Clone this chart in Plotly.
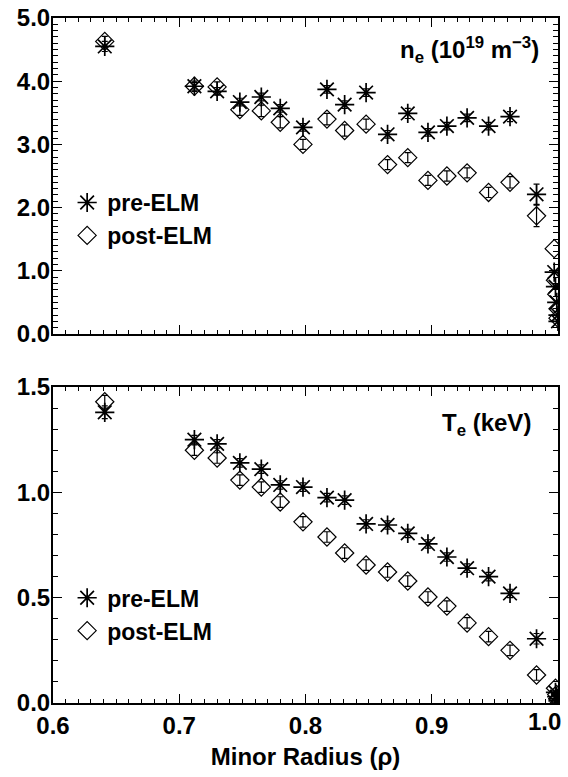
import plotly.graph_objects as go

# ---- data ----
rho = [0.641, 0.712, 0.730, 0.748, 0.765, 0.780, 0.798, 0.817, 0.831, 0.848,
       0.865, 0.881, 0.897, 0.912, 0.928, 0.945, 0.962, 0.983]

ne_pre = [4.55, 3.92, 3.84, 3.67, 3.75, 3.57, 3.27, 3.87, 3.63, 3.82,
          3.16, 3.49, 3.19, 3.29, 3.42, 3.29, 3.44, 2.21]
ne_pre_err = [0.08, 0.06, 0.06, 0.06, 0.06, 0.06, 0.06, 0.06, 0.06, 0.06,
              0.06, 0.08, 0.06, 0.06, 0.06, 0.06, 0.08, 0.16]
ne_post = [4.63, 3.92, 3.91, 3.55, 3.53, 3.35, 3.00, 3.40, 3.22, 3.32,
           2.68, 2.79, 2.43, 2.50, 2.55, 2.24, 2.40, 1.87]
ne_post_err = [0.08, 0.08, 0.08, 0.09, 0.09, 0.09, 0.08, 0.09, 0.09, 0.08,
               0.08, 0.08, 0.08, 0.08, 0.08, 0.08, 0.09, 0.17]

rho_edge_pre = [0.997, 0.998, 0.999, 1.000, 1.000]
ne_edge_pre = [0.98, 0.75, 0.50, 0.30, 0.20]
rho_edge_post = [0.997, 0.998, 0.999, 1.000, 1.000]
ne_edge_post = [1.35, 0.85, 0.63, 0.40, 0.25]

te_pre = [1.38, 1.25, 1.23, 1.14, 1.11, 1.035, 1.025, 0.975, 0.963, 0.85,
          0.845, 0.805, 0.755, 0.693, 0.64, 0.60, 0.52, 0.305]
te_pre_err = [0.03, 0.02, 0.02, 0.02, 0.02, 0.02, 0.02, 0.02, 0.02, 0.02,
              0.02, 0.02, 0.02, 0.02, 0.02, 0.02, 0.02, 0.025]
te_post = [1.43, 1.20, 1.163, 1.058, 1.025, 0.954, 0.86, 0.788, 0.712, 0.655,
           0.622, 0.579, 0.503, 0.46, 0.38, 0.315, 0.25, 0.133]
te_post_err = [0.03, 0.025, 0.025, 0.025, 0.025, 0.025, 0.025, 0.025, 0.025, 0.025,
               0.025, 0.025, 0.025, 0.025, 0.025, 0.025, 0.025, 0.025]

rho_edge_te_pre = [0.998, 0.999, 1.000, 1.000]
te_edge_pre = [0.05, 0.03, 0.02, 0.01]
rho_edge_te_post = [0.998, 0.999, 1.000]
te_edge_post = [0.07, 0.04, 0.02]

x_tickvals = [0.6, 0.7, 0.8, 0.9, 1.0]
x_ticktext = ["0.6", "0.7", "0.8", "0.9", ""]   # last label drawn separately (kept inside the page)
last_x_label = "1.0"

FONT = "Liberation Sans"
BLACK = "black"

fig = go.Figure()

def pre_marker():
    return dict(symbol="asterisk-open", size=16, color=BLACK, line=dict(width=1.7, color=BLACK))

def post_marker():
    return dict(symbol="diamond-open", size=14, color=BLACK, line=dict(width=1.2, color=BLACK))

def err(arr):
    return dict(type="data", array=arr, visible=True, color=BLACK, thickness=1.2, width=3)

# top panel
fig.add_trace(go.Scatter(x=rho, y=ne_pre, mode="markers", marker=pre_marker(),
                         error_y=err(ne_pre_err), name="pre-ELM", legend="legend",
                         xaxis="x", yaxis="y"))
fig.add_trace(go.Scatter(x=rho, y=ne_post, mode="markers", marker=post_marker(),
                         error_y=err(ne_post_err), name="post-ELM", legend="legend",
                         xaxis="x", yaxis="y"))
fig.add_trace(go.Scatter(x=rho_edge_pre, y=ne_edge_pre, mode="markers", marker=pre_marker(),
                         showlegend=False, xaxis="x", yaxis="y"))
fig.add_trace(go.Scatter(x=rho_edge_post, y=ne_edge_post, mode="markers", marker=post_marker(),
                         showlegend=False, xaxis="x", yaxis="y"))

# bottom panel
fig.add_trace(go.Scatter(x=rho, y=te_pre, mode="markers", marker=pre_marker(),
                         error_y=err(te_pre_err), name="pre-ELM", legend="legend2",
                         xaxis="x2", yaxis="y2"))
fig.add_trace(go.Scatter(x=rho, y=te_post, mode="markers", marker=post_marker(),
                         error_y=err(te_post_err), name="post-ELM", legend="legend2",
                         xaxis="x2", yaxis="y2"))
fig.add_trace(go.Scatter(x=rho_edge_te_pre, y=te_edge_pre, mode="markers", marker=pre_marker(),
                         showlegend=False, xaxis="x2", yaxis="y2"))
fig.add_trace(go.Scatter(x=rho_edge_te_post, y=te_edge_post, mode="markers", marker=post_marker(),
                         showlegend=False, xaxis="x2", yaxis="y2"))

tickfont = dict(family=FONT, size=24, color=BLACK, weight="bold")

def xax(show_labels, anchor):
    return dict(range=[0.6, 1.0], tickmode="array", tickvals=x_tickvals, ticktext=x_ticktext,
                showticklabels=show_labels, tickfont=tickfont, ticklabeloverflow="allow",
                automargin=False,
                ticks="inside", ticklen=9, tickwidth=1.3, tickcolor=BLACK,
                minor=dict(ticks="inside", dtick=0.01, tick0=0.6, ticklen=4, tickwidth=1, tickcolor=BLACK),
                showline=True, linewidth=2, linecolor=BLACK, mirror="ticks",
                showgrid=False, zeroline=False, anchor=anchor)

def yax(rng, dtick, mdtick, domain, anchor):
    return dict(range=rng, dtick=dtick, tick0=0, tickformat=".1f", tickfont=tickfont,
                ticklabelstandoff=-4, ticklabeloverflow="allow", automargin=False,
                ticks="inside", ticklen=9, tickwidth=1.3, tickcolor=BLACK,
                minor=dict(ticks="inside", dtick=mdtick, ticklen=5, tickwidth=1, tickcolor=BLACK),
                showline=True, linewidth=2, linecolor=BLACK, mirror="ticks",
                showgrid=False, zeroline=False, domain=domain, anchor=anchor)

top_dom = [0.5387, 1.0]
bot_dom = [0.0, 0.4613]

x2 = xax(True, "y2")
x2["title"] = dict(text="Minor Radius (ρ)", font=dict(family=FONT, size=24, color=BLACK, weight="bold"),
                   standoff=10)

legfont = dict(family=FONT, size=23, color=BLACK, weight="bold")

fig.update_layout(
    width=568, height=777,
    margin=dict(l=53, r=10, t=18, b=74, autoexpand=False),
    paper_bgcolor="white", plot_bgcolor="white",
    xaxis=xax(False, "y"),
    yaxis=yax([0, 5], 1, 0.1, top_dom, "x"),
    xaxis2=x2,
    yaxis2=yax([0, 1.5], 0.5, 0.1, bot_dom, "x2"),
    legend=dict(x=0.028, y=0.762, xanchor="left", yanchor="top", font=legfont,
                bgcolor="rgba(0,0,0,0)", tracegroupgap=0, itemwidth=30),
    legend2=dict(x=0.028, y=0.185, xanchor="left", yanchor="top", font=legfont,
                 bgcolor="rgba(0,0,0,0)", tracegroupgap=0, itemwidth=30),
    annotations=[
        dict(text="n<sub>e</sub> (10<sup>19</sup> m<sup>−3</sup>)", xref="paper", yref="paper",
             x=0.966, y=0.953, xanchor="right", yanchor="middle", showarrow=False,
             font=dict(family=FONT, size=24, color=BLACK, weight="bold")),
        dict(text="T<sub>e</sub> (keV)", xref="paper", yref="paper",
             x=0.95, y=0.406, xanchor="right", yanchor="middle", showarrow=False,
             font=dict(family=FONT, size=24, color=BLACK, weight="bold")),
        dict(text=last_x_label, xref="x2", yref="paper", x=x_tickvals[-1], y=-0.0265,
             xanchor="right", yanchor="middle", xshift=5, showarrow=False,
             font=tickfont),
    ],
    showlegend=True,
)

fig.write_html("out.html", config={"displayModeBar": False},
               post_script="document.body.style.margin='0';document.body.style.overflow='hidden';")
